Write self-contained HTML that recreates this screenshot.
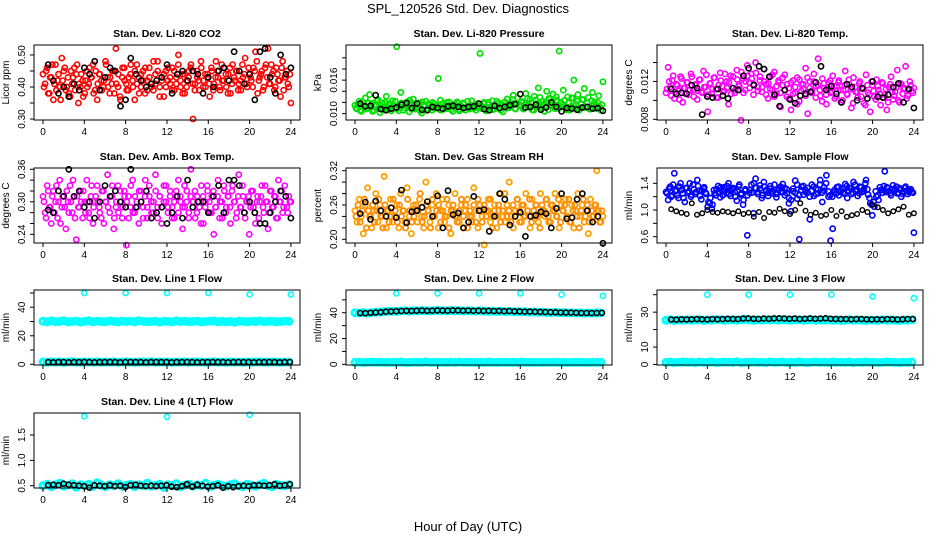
<!DOCTYPE html>
<html><head><meta charset="utf-8"><style>
html,body{margin:0;padding:0;background:#fff;}
svg{display:block;font-family:"Liberation Sans",sans-serif;}
</style></head><body>
<svg id="chart" width="936" height="540" viewBox="0 0 936 540">
<rect x="0" y="0" width="936" height="540" fill="#fff"/>
<text x="468" y="13" text-anchor="middle" font-size="13">SPL_120526  Std. Dev. Diagnostics</text>
<text x="468" y="531" text-anchor="middle" font-size="13">Hour of Day (UTC)</text>
</svg>
<script>
// ---------- data ----------
const hourTicks = [0,4,8,12,16,20,24];
const outlierHours = [4,8,12,16,20,24];
const outlierHoursLT = [4,12,20];

const co2Color = [.44,.41,.46,.38,.43,.36,.47,.42,.40,.49,.45,.39,.43,.37,.41,.46,.44,.35,.40,.42,
.38,.45,.41,.43,.47,.39,.36,.44,.42,.40,.48,.43,.38,.41,.45,.52,.40,.37,.43,.46,
.41,.39,.44,.42,.36,.47,.43,.40,.45,.38,.42,.46,.41,.39,.44,.48,.40,.43,.37,.45,
.42,.41,.46,.39,.43,.50,.40,.44,.38,.42,.45,.47,.30,.41,.43,.39,.46,.42,.40,.44,
.37,.45,.41,.48,.43,.39,.42,.46,.40,.44,.38,.47,.42,.45,.41,.39,.43,.49,.40,.44,
.42,.46,.51,.38,.43,.45,.40,.47,.52,.41,.44,.39,.46,.42,.37,.48,.43,.45,.40,.35];
const co2Color2 = [.40,.45,.38,.43,.47,.41,.39,.44,.36,.42,.46,.40,.38,.45,.43,.39,.47,.41,.44,.37,
.42,.40,.46,.43,.38,.45,.41,.44,.39,.42,.47,.40,.43,.45,.38,.41,.44,.36,.46,.42,
.39,.43,.47,.40,.45,.41,.38,.44,.42,.46,.39,.43,.40,.48,.41,.45,.37,.42,.44,.40,
.46,.43,.39,.45,.41,.47,.42,.38,.44,.40,.43,.46,.41,.39,.45,.42,.48,.40,.44,.43,
.41,.46,.39,.43,.45,.40,.47,.42,.44,.38,.46,.41,.43,.45,.39,.42,.47,.44,.41,.46,
.43,.40,.45,.48,.42,.44,.39,.46,.43,.41,.47,.45,.40,.44,.42,.46,.39,.43,.41,.44];
const co2Black = [.47,.42,.38,.40,.37,.41,.39,.46,.44,.48,.39,.43,.46,.45,.34,.36,.49,.44,.42,.40,.41,.42,.43,.47,.38,.44,.45,.42,.45,.44,.38,.43,.40,.45,.46,.42,.51,.45,.41,.44,.36,.51,.52,.43,.38,.50,.44,.46];

const presColor = [.0115,.0108,.0122,.0104,.0112,.0128,.0110,.0134,.0118,.0106,.0114,.0125,.0102,.0119,.0111,.0131,.0107,.0116,.0123,.0109,
.0220,.0105,.0138,.0117,.0110,.0121,.0103,.0115,.0126,.0108,.0112,.0119,.0101,.0114,.0122,.0109,.0116,.0106,.0118,.0111,
.0163,.0124,.0107,.0113,.0120,.0110,.0115,.0104,.0117,.0121,.0108,.0112,.0119,.0106,.0114,.0110,.0123,.0109,.0116,.0111,
.0208,.0113,.0118,.0105,.0120,.0112,.0107,.0115,.0122,.0109,.0117,.0103,.0114,.0126,.0111,.0119,.0133,.0108,.0128,.0116,
.0120,.0110,.0136,.0113,.0125,.0107,.0131,.0118,.0146,.0112,.0122,.0104,.0140,.0127,.0115,.0135,.0109,.0124,.0212,.0119,
.0142,.0113,.0130,.0106,.0128,.0160,.0117,.0134,.0110,.0125,.0145,.0112,.0129,.0108,.0138,.0121,.0115,.0132,.0106,.0157];
const presColor2 = [.0110,.0117,.0106,.0121,.0113,.0108,.0119,.0112,.0104,.0116,.0123,.0109,.0114,.0107,.0120,.0111,.0118,.0105,.0115,.0122,
.0109,.0113,.0119,.0106,.0116,.0112,.0124,.0108,.0114,.0110,.0118,.0105,.0121,.0113,.0107,.0117,.0111,.0120,.0109,.0115,
.0112,.0106,.0118,.0114,.0109,.0121,.0107,.0116,.0111,.0119,.0105,.0113,.0117,.0110,.0122,.0108,.0115,.0112,.0106,.0118,
.0114,.0109,.0120,.0107,.0116,.0111,.0123,.0108,.0113,.0119,.0106,.0115,.0121,.0110,.0117,.0112,.0125,.0109,.0118,.0114,
.0122,.0108,.0116,.0127,.0111,.0119,.0106,.0124,.0113,.0129,.0110,.0118,.0121,.0107,.0126,.0115,.0112,.0130,.0109,.0120,
.0116,.0124,.0107,.0119,.0113,.0128,.0110,.0122,.0106,.0117,.0125,.0111,.0119,.0108,.0123,.0114,.0109,.0120,.0112,.0116];
const presBlack = [.0118,.0113,.0114,.0133,.0108,.0106,.0109,.0111,.0116,.0119,.0110,.0118,.0107,.0106,.0112,.0110,.0109,.0113,.0114,.0112,.0110,.0112,.0113,.0118,.0108,.0106,.0114,.0110,.0112,.0115,.0117,.0135,.0111,.0112,.0116,.0107,.0111,.0120,.0112,.0104,.0110,.0109,.0107,.0111,.0112,.0109,.0110,.0105];

const tempColor = [.0108,.0135,.0114,.0121,.0102,.0117,.0110,.0125,.0098,.0113,.0119,.0106,.0128,.0111,.0116,.0101,.0122,.0109,.0131,.0114,
.0088,.0118,.0107,.0124,.0112,.0103,.0129,.0115,.0110,.0120,.0096,.0126,.0113,.0108,.0132,.0117,.0079,.0123,.0111,.0137,
.0119,.0128,.0106,.0140,.0114,.0121,.0109,.0133,.0117,.0102,.0125,.0111,.0130,.0107,.0119,.0093,.0116,.0127,.0104,.0113,
.0090,.0121,.0108,.0124,.0099,.0117,.0112,.0134,.0086,.0120,.0110,.0128,.0115,.0144,.0105,.0123,.0113,.0096,.0119,.0108,
.0126,.0102,.0115,.0121,.0098,.0111,.0131,.0106,.0117,.0092,.0124,.0109,.0103,.0120,.0113,.0097,.0127,.0108,.0088,.0116,
.0104,.0122,.0111,.0095,.0118,.0106,.0090,.0114,.0125,.0101,.0109,.0132,.0098,.0117,.0112,.0136,.0105,.0120,.0110,.0113];
const tempColor2 = [.0112,.0120,.0105,.0126,.0109,.0116,.0101,.0123,.0113,.0107,.0119,.0111,.0125,.0104,.0117,.0110,.0122,.0108,.0114,.0127,
.0106,.0118,.0112,.0124,.0103,.0116,.0121,.0109,.0128,.0113,.0119,.0107,.0125,.0111,.0122,.0115,.0130,.0108,.0120,.0126,
.0113,.0123,.0117,.0129,.0110,.0125,.0114,.0120,.0106,.0118,.0112,.0127,.0104,.0115,.0121,.0108,.0124,.0111,.0117,.0102,
.0119,.0107,.0114,.0096,.0122,.0110,.0117,.0105,.0124,.0113,.0108,.0120,.0103,.0116,.0111,.0099,.0118,.0106,.0113,.0121,
.0109,.0115,.0104,.0119,.0111,.0100,.0116,.0107,.0122,.0112,.0097,.0114,.0109,.0118,.0104,.0112,.0095,.0116,.0106,.0120,
.0110,.0101,.0115,.0107,.0119,.0103,.0112,.0098,.0117,.0109,.0105,.0114,.0100,.0118,.0107,.0113,.0102,.0111,.0116,.0108];
const tempBlack = [.0112,.0107,.0108,.0107,.0116,.0113,.0085,.0104,.0103,.0112,.0105,.0102,.0113,.0111,.0126,.0134,.0116,.0136,.0133,.0125,.0106,.0094,.0111,.0101,.0097,.0105,.0107,.0109,.0119,.0136,.0111,.0115,.0107,.0098,.0117,.0114,.0100,.0113,.0102,.0120,.0104,.0103,.0106,.0114,.0118,.0098,.0112,.0092];

const boxColor = [.31,.28,.33,.29,.26,.32,.30,.27,.34,.29,.31,.25,.30,.33,.28,.31,.23,.29,.32,.27,
.30,.34,.28,.31,.26,.30,.33,.29,.27,.32,.30,.35,.28,.31,.25,.29,.33,.30,.27,.32,
.22,.31,.29,.34,.28,.30,.26,.32,.29,.31,.27,.33,.30,.28,.35,.29,.31,.26,.30,.33,
.28,.32,.29,.27,.31,.34,.30,.25,.29,.32,.28,.36,.30,.27,.31,.29,.33,.26,.30,.32,
.28,.31,.24,.29,.34,.30,.27,.32,.29,.31,.26,.33,.30,.28,.35,.29,.31,.27,.30,.24,
.32,.29,.26,.31,.30,.33,.28,.30,.25,.32,.29,.31,.27,.34,.30,.28,.33,.29,.31,.30];
const boxColor2 = [.30,.27,.32,.29,.31,.28,.33,.30,.26,.31,.29,.32,.28,.30,.34,.27,.31,.29,.30,.32,
.28,.30,.27,.33,.29,.31,.30,.28,.32,.26,.30,.29,.31,.33,.27,.30,.28,.32,.29,.31,
.30,.27,.33,.28,.31,.29,.32,.30,.27,.34,.29,.31,.28,.30,.32,.27,.31,.29,.33,.30,
.29,.31,.27,.30,.32,.28,.31,.29,.33,.30,.27,.31,.29,.32,.28,.30,.26,.31,.29,.33,
.30,.28,.32,.29,.31,.27,.30,.33,.28,.31,.29,.32,.30,.27,.31,.29,.33,.28,.30,.31,
.29,.32,.28,.30,.27,.31,.29,.33,.30,.28,.32,.29,.31,.27,.30,.32,.29,.31,.28,.30];
const boxBlack = [.285,.28,.32,.31,.36,.31,.32,.29,.30,.27,.30,.33,.31,.32,.30,.29,.36,.29,.30,.32,.27,.28,.29,.26,.28,.31,.27,.34,.29,.30,.30,.28,.31,.33,.28,.34,.34,.33,.28,.30,.28,.26,.26,.28,.30,.32,.31,.27];

const rhColor = [.25,.23,.27,.24,.21,.26,.29,.24,.22,.25,.28,.23,.26,.24,.31,.22,.25,.27,.23,.24,
.26,.22,.28,.25,.23,.29,.24,.21,.26,.25,.23,.27,.24,.22,.30,.25,.23,.26,.24,.28,
.22,.25,.27,.23,.24,.26,.21,.25,.28,.24,.23,.26,.22,.25,.27,.24,.23,.29,.25,.22,
.26,.24,.19,.25,.27,.23,.24,.26,.22,.25,.28,.24,.23,.26,.30,.24,.22,.25,.27,.23,
.26,.24,.28,.25,.22,.27,.24,.26,.23,.28,.25,.24,.27,.23,.26,.25,.28,.24,.22,.26,
.25,.27,.24,.23,.26,.22,.25,.28,.24,.26,.23,.25,.21,.27,.24,.26,.32,.25,.23,.24];
const rhColor2 = [.24,.26,.23,.25,.27,.22,.25,.24,.26,.23,.25,.27,.24,.22,.26,.25,.23,.24,.27,.25,
.23,.26,.24,.25,.22,.27,.25,.23,.24,.26,.25,.28,.23,.24,.26,.25,.22,.27,.24,.25,
.26,.23,.25,.24,.27,.22,.25,.26,.24,.23,.25,.27,.24,.26,.22,.25,.24,.26,.23,.27,
.25,.23,.26,.24,.25,.27,.22,.25,.24,.26,.23,.25,.28,.24,.25,.23,.26,.24,.27,.25,
.23,.26,.24,.25,.27,.23,.25,.26,.24,.22,.26,.25,.27,.24,.23,.26,.25,.24,.27,.23,
.25,.26,.24,.27,.23,.25,.26,.24,.22,.25,.27,.24,.26,.23,.25,.24,.26,.25,.23,.25];
const rhBlack = [.245,.265,.235,.267,.25,.24,.255,.238,.286,.229,.248,.25,.256,.266,.24,.276,.22,.285,.243,.246,.22,.23,.275,.25,.252,.214,.24,.28,.27,.225,.24,.247,.205,.24,.242,.248,.245,.22,.254,.28,.236,.238,.27,.28,.25,.23,.24,.193];

const sampColor = [1.27,1.15,1.35,1.22,1.55,1.30,1.18,1.40,1.25,1.12,1.33,1.28,1.20,1.38,1.24,1.45,1.29,1.16,1.32,1.26,
1.05,1.10,1.02,1.30,1.22,1.36,1.19,1.28,1.34,1.25,1.40,1.21,1.31,1.27,1.14,1.35,1.23,1.08,1.29,0.62,
1.26,1.38,0.95,1.47,1.24,1.32,1.18,1.42,1.28,1.21,1.36,1.25,1.30,1.19,1.33,1.27,1.39,1.22,1.31,1.10,
0.98,1.28,1.44,1.17,0.56,1.35,1.23,1.30,1.26,0.86,1.38,1.21,1.32,1.25,1.45,1.12,1.29,1.52,1.20,0.54,
0.72,1.27,1.34,1.22,1.30,1.26,1.39,1.18,1.33,1.24,1.42,1.28,1.21,1.35,1.27,1.31,1.45,1.23,1.10,0.92,
1.05,1.20,1.15,1.30,1.26,1.58,1.34,1.28,1.22,1.37,1.30,1.25,1.33,1.20,1.28,1.35,1.24,1.29,1.27,0.66];
const sampColor2 = [1.25,1.32,1.20,1.38,1.28,1.22,1.35,1.30,1.18,1.33,1.26,1.40,1.23,1.31,1.27,1.36,1.21,1.29,1.34,1.24,
1.12,1.18,1.08,1.25,1.31,1.27,1.34,1.22,1.30,1.36,1.24,1.29,1.33,1.20,1.28,1.38,1.25,1.15,1.31,1.22,
1.30,1.26,1.40,1.33,1.27,1.37,1.22,1.35,1.30,1.26,1.32,1.28,1.38,1.24,1.30,1.35,1.27,1.33,1.25,1.18,
1.15,1.32,1.26,1.38,1.22,1.30,1.36,1.27,1.33,1.20,1.29,1.35,1.24,1.31,1.38,1.26,1.34,1.40,1.28,1.22,
1.20,1.30,1.25,1.35,1.27,1.32,1.24,1.36,1.29,1.33,1.26,1.38,1.30,1.25,1.34,1.28,1.40,1.31,1.18,1.08,
1.12,1.28,1.22,1.34,1.30,1.36,1.27,1.33,1.25,1.31,1.28,1.35,1.26,1.30,1.24,1.33,1.29,1.27,1.31,1.26];
const sampBlack = [1.01,0.98,0.96,0.94,1.10,0.93,0.95,1.00,0.97,0.96,0.98,0.97,0.95,0.98,0.94,0.96,0.90,0.97,0.88,0.97,0.96,1.02,0.98,0.94,1.00,1.10,0.99,0.93,0.96,0.91,0.93,1.00,0.91,0.98,0.90,0.92,0.94,1.00,0.97,1.08,1.04,1.00,0.95,0.98,1.01,1.05,0.93,0.95];

const l1High = [30.2,29.8,30.4,29.9,30.1,30.5,29.7,30.0,30.3,29.6,30.1,30.6,29.8,30.2,30.0,29.9,30.4,30.1,29.7,30.3,30.0,30.2,29.8,30.5,30.1,29.9,30.0,30.3,29.6,30.2,30.1,29.8,30.4,30.0,30.2,29.9,30.1,30.3,29.7,30.0,30.2,30.4,29.8,30.1,29.9,30.0,29.5,30.3,30.1,29.8,30.2,30.0,30.4,29.9,30.1,30.2,29.8,30.0,30.3,30.1];
const l1Low = [1.6,1.4,1.8,1.5,1.7,1.3,1.6,1.9,1.5,1.4,1.7,1.6,1.5,1.8,1.4,1.6,1.5,1.7,1.3,1.6,1.8,1.5,1.4,1.6,1.7,1.5,1.9,1.4,1.6,1.5,1.7,1.3,1.6,1.5,1.8,1.4,1.6,1.7,1.5,1.4,1.6,1.8,1.5,1.6,1.4,1.7,1.5,1.6,1.3,1.7,1.5,1.6,1.8,1.4,1.5,1.7,1.6,1.4,1.5,1.6];
const l1Out = [50,50,50,50,49,49];
const l1Black = [1.5,1.4,1.5,1.6,1.4,1.5,1.5,1.6,1.5,1.4,1.5,1.5,1.6,1.5,1.4,1.5,1.6,1.5,1.5,1.4,1.5,1.6,1.5,1.5,1.4,1.5,1.5,1.6,1.5,1.4,1.5,1.5,1.6,1.5,1.5,1.4,1.5,1.6,1.5,1.5,1.4,1.5,1.5,1.6,1.5,1.4,1.5,1.6];

const l2High = [40.0,39.8,40.2,39.7,40.1,40.3,40.5,40.8,41.0,41.2,41.0,41.3,41.5,41.2,41.6,41.4,41.7,41.5,41.3,41.6,41.8,41.5,41.4,41.7,41.5,41.6,41.3,41.5,41.4,41.2,41.5,41.3,41.0,41.2,40.9,41.1,40.8,41.0,40.7,40.9,40.6,40.8,40.4,40.6,40.3,40.5,40.2,40.0,40.3,39.9,40.1,39.8,40.0,39.7,39.9,39.6,39.8,39.7,39.9,39.8];
const l2Low = [1.5,1.7,1.4,1.6,1.8,1.5,1.6,1.4,1.7,1.5,1.6,1.8,1.4,1.5,1.7,1.6,1.5,1.9,1.4,1.6,1.5,1.7,1.5,1.6,1.4,1.8,1.5,1.6,1.7,1.4,1.6,1.5,1.8,1.5,1.4,1.6,1.7,1.5,1.6,1.4,1.8,1.5,1.6,1.5,1.7,1.4,1.6,1.5,1.7,1.5,1.6,1.4,1.5,1.7,1.6,1.5,1.4,1.6,1.5,1.7];
const l2Out = [55,55,55,55,54,53];
const l2Black = [39.8,39.6,39.9,40.2,40.4,40.8,41.0,41.2,41.3,41.5,41.4,41.6,41.7,41.5,41.6,41.8,41.7,41.6,41.9,41.8,41.6,41.7,41.5,41.6,41.4,41.5,41.3,41.4,41.2,41.3,41.1,41.0,40.8,40.9,40.7,40.6,40.5,40.4,40.3,40.2,40.1,40.0,39.9,39.8,39.8,39.7,39.8,39.9];

const l3High = [25.3,25.6,25.2,25.5,25.4,25.7,25.3,25.5,25.6,25.2,25.5,25.4,25.8,25.6,25.3,25.5,25.7,25.4,25.6,25.9,25.5,25.3,25.6,25.4,25.7,25.5,25.8,25.4,25.6,25.5,25.3,25.6,25.7,25.4,25.5,25.6,25.3,25.5,25.4,25.6,25.3,25.5,25.2,25.4,25.6,25.3,25.5,25.4,25.2,25.5,25.3,25.4,25.6,25.3,25.5,25.4,25.2,25.5,25.4,25.6];
const l3Low = [1.2,1.4,1.1,1.3,1.5,1.2,1.3,1.0,1.4,1.2,1.3,1.5,1.1,1.2,1.4,1.3,1.2,1.6,1.1,1.3,1.2,1.4,1.2,1.3,1.1,1.5,1.2,1.3,1.4,1.1,1.3,1.2,1.5,1.2,1.1,1.3,1.4,1.2,1.3,1.1,1.5,1.2,1.3,1.2,1.4,1.1,1.3,1.2,1.4,1.2,1.3,1.1,1.2,1.4,1.3,1.2,1.1,1.3,1.2,1.4];
const l3Out = [40,40,40,40,39,38];
const l3Black = [25.8,25.7,25.9,25.8,25.9,26.0,25.9,25.8,26.1,25.9,26.0,26.2,26.1,26.0,26.3,26.4,26.2,26.1,26.3,26.2,26.4,26.5,26.3,26.2,26.3,26.1,26.2,26.4,26.2,26.3,26.5,26.2,26.1,26.0,26.1,25.9,26.0,26.0,25.9,25.8,25.9,25.8,26.0,25.9,25.8,25.9,26.0,26.1];

const l4Band = [.50,.53,.48,.52,.55,.49,.51,.54,.47,.52,.50,.53,.49,.56,.51,.48,.52,.50,.54,.49,.51,.53,.48,.52,.50,.55,.49,.51,.53,.47,.52,.50,.54,.48,.51,.53,.49,.52,.50,.55,.48,.51,.53,.50,.49,.52,.54,.50,.48,.53,.51,.49,.52,.55,.50,.48,.53,.51,.50,.52];
const l4Out = [1.87,1.86,1.90];
const l4Black = [.51,.52,.51,.54,.52,.51,.50,.49,.46,.51,.50,.49,.51,.49,.50,.47,.51,.52,.50,.49,.50,.49,.50,.51,.48,.47,.49,.53,.48,.52,.50,.48,.49,.51,.46,.49,.47,.49,.50,.49,.51,.51,.50,.51,.53,.50,.51,.53];

// ---------- layout ----------
const colLeft = [34,346,657];
const rowTop = [45,168,290,413];
const boxW = 266, boxH = 75, pxPerHour = 10.33, xOff = 9;

const panels = [
 {name:'co2',title:'Stan. Dev. Li-820 CO2',ylab:'Licor ppm',col:0,row:0,ymin:.297,ymax:.531,ticks:[.30,.35,.40,.45,.50],labels:[[.30,'0.30'],[.40,'0.40'],[.50,'0.50']],
  series:[{d:co2Color,c:'#ff0000',s:0,e:24,r:2.6,w:1.6},{d:co2Color2,c:'#ff0000',s:.1,e:23.9,r:2.6,w:1.6},{d:co2Black,c:'#000',s:.5,e:24,r:2.6,w:1.6}]},
 {name:'pressure',title:'Stan. Dev. Li-820 Pressure',ylab:'kPa',col:1,row:0,ymin:.00885,ymax:.0223,ticks:[.010,.012,.014,.016,.018,.020],labels:[[.010,'0.010'],[.016,'0.016']],
  series:[{d:presColor,c:'#00e000',s:0,e:24,r:2.6,w:1.7},{d:presColor2,c:'#00e000',s:.1,e:23.9,r:2.6,w:1.7},{d:presBlack,c:'#000',s:.5,e:24,r:2.6,w:1.6}]},
 {name:'li820-temp',title:'Stan. Dev. Li-820 Temp.',ylab:'degrees C',col:2,row:0,ymin:.00793,ymax:.01585,ticks:[.008,.010,.012,.014],labels:[[.008,'0.008'],[.012,'0.012']],
  series:[{d:tempColor,c:'#ff00ff',s:0,e:24,r:2.6,w:1.6},{d:tempColor2,c:'#ff00ff',s:.1,e:23.9,r:2.6,w:1.6},{d:tempBlack,c:'#000',s:.5,e:24,r:2.6,w:1.6}]},
 {name:'box-temp',title:'Stan. Dev. Amb. Box Temp.',ylab:'degrees C',col:0,row:1,ymin:.224,ymax:.3624,ticks:[.24,.26,.28,.30,.32,.34,.36],labels:[[.24,'0.24'],[.30,'0.30'],[.36,'0.36']],
  series:[{d:boxColor,c:'#ff00ff',s:0,e:24,r:2.6,w:1.6},{d:boxColor2,c:'#ff00ff',s:.1,e:23.9,r:2.6,w:1.6},{d:boxBlack,c:'#000',s:.5,e:24,r:2.6,w:1.6}]},
 {name:'gas-rh',title:'Stan. Dev. Gas Stream RH',ylab:'percent',col:1,row:1,ymin:.1935,ymax:.3247,ticks:[.20,.22,.24,.26,.28,.30,.32],labels:[[.20,'0.20'],[.26,'0.26'],[.32,'0.32']],
  series:[{d:rhColor,c:'#ffa000',s:0,e:24,r:2.6,w:1.8},{d:rhColor2,c:'#ff8c00',s:.1,e:23.9,r:2.6,w:1.8},{d:rhBlack,c:'#000',s:.5,e:24,r:2.6,w:1.6}]},
 {name:'sample-flow',title:'Stan. Dev. Sample Flow',ylab:'ml/min',col:2,row:1,ymin:.505,ymax:1.63,ticks:[.6,.8,1.0,1.2,1.4],labels:[[.6,'0.6'],[1.0,'1.0'],[1.4,'1.4']],
  series:[{d:sampColor,c:'#0000ff',s:0,e:24,r:2.6,w:1.6},{d:sampColor2,c:'#0000ff',s:.1,e:23.9,r:2.6,w:1.6},{d:sampBlack,c:'#000',s:.5,e:24,r:2.3,w:1.4}]},
 {name:'line1-flow',title:'Stan. Dev. Line 1 Flow',ylab:'ml/min',col:0,row:2,ymin:-0.5,ymax:52.1,ticks:[0,10,20,30,40,50],labels:[[0,'0'],[20,'20'],[40,'40']],
  series:[{d:l1High,c:'#00ffff',s:0,e:23.8,r:3,w:3},{d:l1Low,c:'#00ffff',s:0,e:23.8,r:3,w:3},{d:l1Out,h:outlierHours,c:'#00ffff',r:2.6,w:1.6},{d:l1Black,c:'#000',s:.5,e:23.9,r:2.5,w:1.6}]},
 {name:'line2-flow',title:'Stan. Dev. Line 2 Flow',ylab:'ml/min',col:1,row:2,ymin:-0.5,ymax:57.6,ticks:[0,10,20,30,40,50],labels:[[0,'0'],[20,'20'],[40,'40']],
  series:[{d:l2High,c:'#00ffff',s:0,e:23.8,r:3,w:3},{d:l2Low,c:'#00ffff',s:0,e:23.8,r:3,w:3},{d:l2Out,h:outlierHours,c:'#00ffff',r:2.6,w:1.6},{d:l2Black,c:'#000',s:.5,e:23.9,r:2.5,w:1.6}]},
 {name:'line3-flow',title:'Stan. Dev. Line 3 Flow',ylab:'ml/min',col:2,row:2,ymin:-0.3,ymax:42.7,ticks:[0,10,20,30,40],labels:[[0,'0'],[10,'10'],[30,'30']],
  series:[{d:l3High,c:'#00ffff',s:0,e:23.8,r:3,w:3},{d:l3Low,c:'#00ffff',s:0,e:23.8,r:3,w:3},{d:l3Out,h:outlierHours,c:'#00ffff',r:2.6,w:1.6},{d:l3Black,c:'#000',s:.5,e:23.9,r:2.5,w:1.6}]},
 {name:'line4-flow',title:'Stan. Dev. Line 4 (LT) Flow',ylab:'ml/min',col:0,row:3,ymin:.455,ymax:1.934,ticks:[.5,1.0,1.5],labels:[[.5,'0.5'],[1.0,'1.0'],[1.5,'1.5']],
  series:[{d:l4Band,c:'#00ffff',s:0,e:23.8,r:3,w:3},{d:l4Out,h:outlierHoursLT,c:'#00ffff',r:2.6,w:1.6},{d:l4Black,c:'#000',s:.5,e:23.9,r:2.5,w:1.6}]}
];

const NS = 'http://www.w3.org/2000/svg';
const svg = document.getElementById('chart');
function mk(tag, attrs, parent){
  const el = document.createElementNS(NS, tag);
  for (const k in attrs) el.setAttribute(k, attrs[k]);
  parent.appendChild(el);
  return el;
}

panels.forEach(p => {
  const L = colLeft[p.col], T = rowTop[p.row], B = T + boxH;
  const xs = h => L + xOff + h * pxPerHour;
  const ys = v => T + (p.ymax - v) / (p.ymax - p.ymin) * boxH;
  const g = mk('g', {}, svg);
  
  

  const t = mk('text', {x: L + boxW/2, y: T - 8, 'text-anchor':'middle', 'font-size':'10.5', 'font-weight':'bold'}, g);
  t.textContent = p.title;
  
  

  p.series.forEach((s, si) => {
    const sg = mk('g', {fill:'none', stroke:s.c, 'stroke-width':s.w}, g);
    
    
    const n = s.d.length;
    s.d.forEach((v, i) => {
      const h = s.h ? s.h[i] : s.s + i * (s.e - s.s) / (n - 1);
      const c = mk('circle', {cx: xs(h).toFixed(1), cy: ys(v).toFixed(1), r: s.r}, sg);
      
      
    });
  });

  const box = mk('rect', {x:L, y:T, width:boxW, height:boxH, fill:'none', stroke:'#000', 'stroke-width':1}, g);
  
  

  const xa = mk('g', {stroke:'#000', 'stroke-width':1}, g);
  
  
  hourTicks.forEach(h => {
    mk('line', {x1:xs(h), x2:xs(h), y1:B, y2:B+4}, xa);
    const tl = mk('text', {x:xs(h), y:B+15, 'text-anchor':'middle', 'font-size':'10', stroke:'none', fill:'#000'}, xa);
    tl.textContent = h;
    
    
  });

  const ya = mk('g', {stroke:'#000', 'stroke-width':1}, g);
  
  
  p.ticks.forEach(v => { mk('line', {x1:L-4, x2:L, y1:ys(v), y2:ys(v)}, ya); });
  p.labels.forEach(([v, s]) => {
    const yy = ys(v);
    const tl = mk('text', {x:L-9, y:yy, 'text-anchor':'middle', 'font-size':'10', stroke:'none', fill:'#000', transform:`rotate(-90 ${L-9} ${yy})`}, ya);
    tl.textContent = s;
    
    
  });
  const yl = mk('text', {x:L-25, y:T+boxH/2, 'text-anchor':'middle', 'font-size':'10', fill:'#000', transform:`rotate(-90 ${L-25} ${T+boxH/2})`}, g);
  yl.textContent = p.ylab;
  
  
});
</script>
</body></html>
